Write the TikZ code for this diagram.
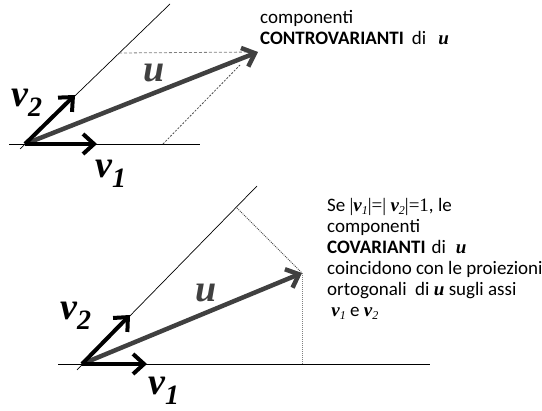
\documentclass[tikz,border=0pt]{standalone}
\usepackage{fontspec}
\setmainfont{Carlito}
\newfontfamily\serifvec{Liberation Serif}
\usetikzlibrary{arrows.meta}
\definecolor{ugray}{RGB}{64,64,64}
\newcommand{\vb}[1]{{\serifvec\bfseries\itshape #1}}
\newcommand{\vbsub}[2]{\vb{#1}\raisebox{-0.35ex}{\serifvec\itshape\fontsize{12}{12}\selectfont #2}}
\newcommand{\bigsub}[2]{#1\raisebox{-10pt}{\fontsize{28}{28}\selectfont #2}}

\begin{document}
\begin{tikzpicture}[x=1pt, y=-1pt, >={Straight Barb[length=11pt, width=20pt]},
        vec/.style={->, line width=4pt},
        uvec/.style={vec, draw=ugray, line width=4.5pt},
        axis/.style={line width=0.7pt},
        proj/.style={dashed, dash pattern=on 3pt off 2pt, draw=gray, line width=0.8pt},
        biglabel/.style={font=\serifvec\bfseries\itshape\fontsize{38}{38}\selectfont, inner sep=0pt, anchor=base west},
        txt/.style={anchor=north west, align=left, inner sep=0pt, font=\fontsize{19}{21}\selectfont}]
        \useasboundingbox (0,0) rectangle (542,411);

        % Top: controvariant components
        \coordinate (O1) at (25,144);
        \coordinate (h1a) at (9,144);
        \coordinate (h1b) at (200,144);
        \coordinate (s1a) at (20,149);
        \coordinate (s1b) at (170,4);
        \coordinate (v1t) at (97,144);
        \coordinate (v2t) at (75,95);
        \coordinate (ut) at (258,52);
        \coordinate (c2) at (119,53);
        \coordinate (c1) at (163,144);
        \coordinate (c1end) at (240,65);

        \draw[axis] (h1a) -- (h1b);
        \draw[axis] (s1a) -- (s1b);
        \draw[proj] (c2) -- (ut);
        \draw[proj, draw=black!70, dash pattern=on 2pt off 1.5pt] (c1) -- (c1end);
        \draw[uvec] (O1) -- (ut);
        \draw[vec] (O1) -- (v1t);
        \draw[vec] (O1) -- (v2t);

        \node[biglabel, text=ugray] (u1) at (143,82) {u};
        \node[biglabel] (v2a) at (11,107) {\bigsub{v}{2}};
        \node[biglabel] (v1a) at (95,178) {\bigsub{v}{1}};

        \node[txt] (controv) at (260,10) {componenti\\\textbf{CONTROVARIANTI}\hspace{8pt}di\hspace{12pt}\vb{u}};

        % Bottom: covariant components
        \coordinate (O2) at (82,364);
        \coordinate (h2a) at (58,364);
        \coordinate (h2b) at (430,364);
        \coordinate (s2a) at (77,370);
        \coordinate (s2b) at (257,186);
        \coordinate (w1t) at (147,364);
        \coordinate (w2t) at (130,315);
        \coordinate (ut2) at (302,273);
        \coordinate (f2) at (237,208);
        \coordinate (f1) at (302,364);

        \draw[axis] (h2a) -- (h2b);
        \draw[axis] (s2a) -- (s2b);
        \draw[proj, draw=black!70, dash pattern=on 1pt off 1pt] (f2) -- (ut2);
        \draw[proj, dash pattern=on 1pt off 1pt] (ut2) -- (f1);
        \draw[uvec] (O2) -- (ut2);
        \draw[vec] (O2) -- (w1t);
        \draw[vec] (O2) -- (w2t);

        \node[biglabel, text=ugray] (u2) at (195,302) {u};
        \node[biglabel] (v2b) at (60,320) {\bigsub{v}{2}};
        \node[biglabel] (v1b) at (148,395) {\bigsub{v}{1}};

        \node[txt] (cov) at (327,198) {Se {\serifvec|}\vbsub{v}{1}{\serifvec|=|}\ \vbsub{v}{2}{\serifvec|=1}, le\\
            componenti\\
            \textbf{COVARIANTI}\hspace{6pt}di\hspace{10pt}\vb{u}\\
            coincidono con le proiezioni\\
            ortogonali\ \ di \vb{u} sugli assi\\
            \ \vbsub{v}{1} e \vbsub{v}{2}};
    \end{tikzpicture}
\end{document}
